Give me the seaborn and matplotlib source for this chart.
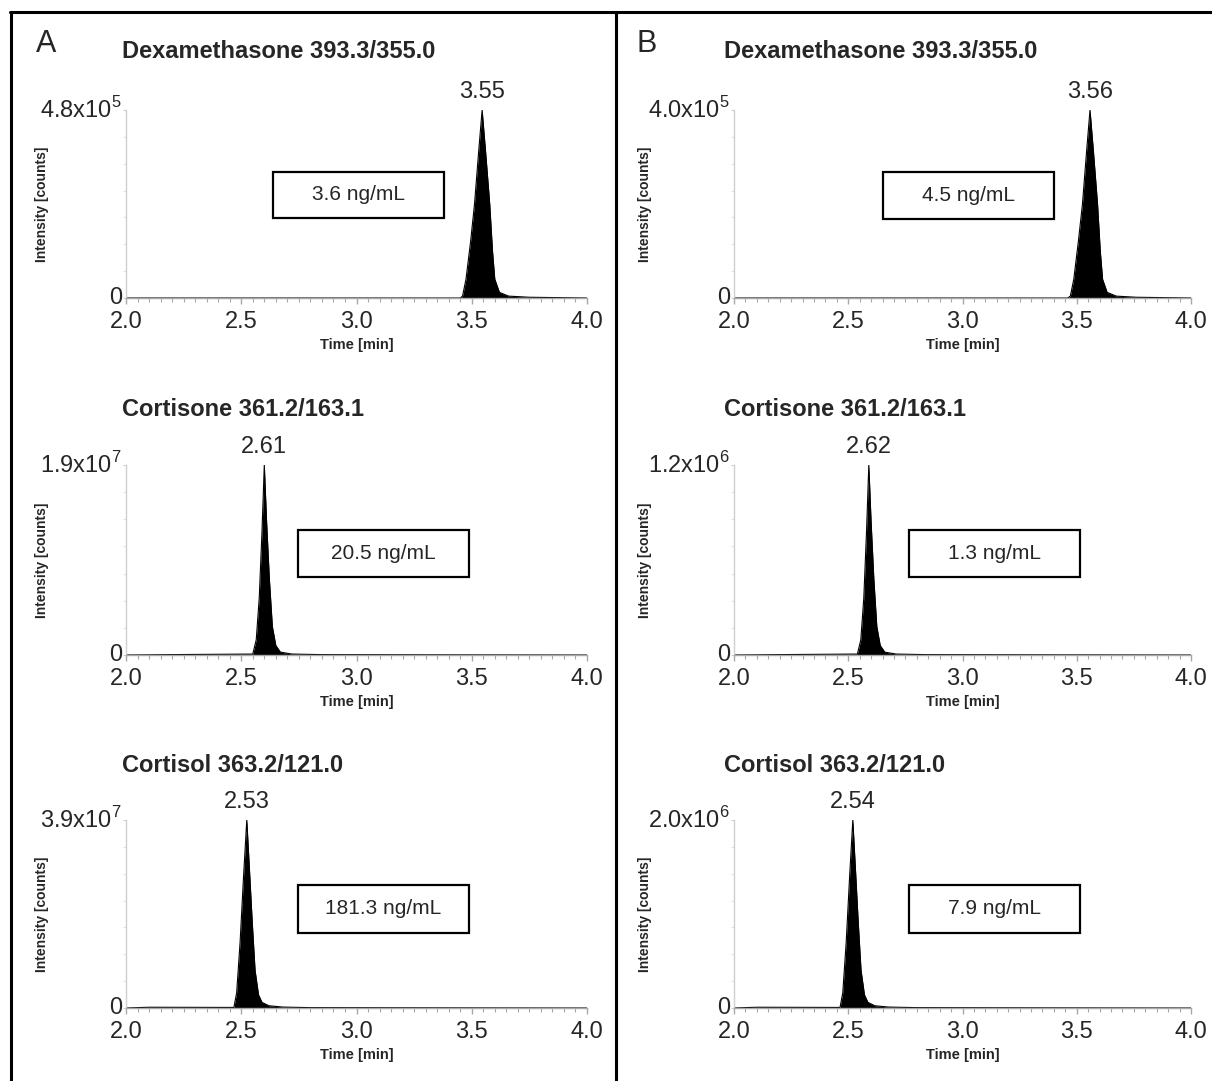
import matplotlib
matplotlib.use("Agg")
import matplotlib.pyplot as plt
import seaborn as sns
import pandas as pd
from matplotlib.patches import Rectangle
from matplotlib.lines import Line2D
from matplotlib.ticker import MultipleLocator, FixedLocator


compounds = [
    "Dexamethasone 393.3/355.0",
    "Cortisone 361.2/163.1",
    "Cortisol 363.2/121.0",
]

# ---- panel A ----
a_apex_labels = ["3.55", "2.61", "2.53"]
a_conc = ["3.6 ng/mL", "20.5 ng/mL", "181.3 ng/mL"]
a_ymax = [4.8e5, 1.9e7, 3.9e7]
a_ymax_labels = ["4.8x10$^{5}$", "1.9x10$^{7}$", "3.9x10$^{7}$"]

a_dex_t = [2.0, 3.45, 3.46, 3.475, 3.495, 3.512, 3.53, 3.545, 3.56, 3.578,
           3.59, 3.60, 3.62, 3.66, 3.75, 4.0]
a_dex_i = [0, 0, 4.8e3, 4.8e4, 1.44e5, 2.4e5, 3.74e5, 4.8e5, 3.74e5, 2.4e5,
           1.2e5, 4.8e4, 1.44e4, 4.8e3, 1.9e3, 0]

a_cortisone_t = [2.0, 2.30, 2.55, 2.565, 2.578, 2.59, 2.60, 2.61, 2.622,
                 2.635, 2.65, 2.67, 2.72, 2.85, 4.0]
a_cortisone_i = [0, 5.7e4, 9.5e4, 1.52e6, 5.7e6, 1.235e7, 1.9e7, 1.33e7,
                 7.6e6, 2.85e6, 9.5e5, 2.85e5, 9.5e4, 3.8e4, 0]

a_cortisol_t = [2.0, 2.10, 2.468, 2.48, 2.495, 2.51, 2.524, 2.535, 2.548,
                2.56, 2.575, 2.59, 2.62, 2.68, 2.80, 4.0]
a_cortisol_i = [0, 1.56e5, 1.17e5, 3.12e6, 1.365e7, 2.73e7, 3.9e7, 2.925e7,
                1.755e7, 7.8e6, 2.73e6, 1.17e6, 4.68e5, 1.95e5, 7.8e4, 0]

# ---- panel B ----
b_apex_labels = ["3.56", "2.62", "2.54"]
b_conc = ["4.5 ng/mL", "1.3 ng/mL", "7.9 ng/mL"]
b_ymax = [4.0e5, 1.2e6, 2.0e6]
b_ymax_labels = ["4.0x10$^{5}$", "1.2x10$^{6}$", "2.0x10$^{6}$"]

b_dex_t = [2.0, 3.46, 3.472, 3.487, 3.507, 3.525, 3.543, 3.558, 3.573, 3.591,
           3.603, 3.613, 3.633, 3.673, 3.76, 4.0]
b_dex_i = [0, 0, 4.0e3, 4.0e4, 1.2e5, 2.0e5, 3.12e5, 4.0e5, 3.12e5, 2.0e5,
           1.0e5, 4.0e4, 1.2e4, 4.0e3, 1.6e3, 0]

b_cortisone_t = [2.0, 2.30, 2.54, 2.555, 2.568, 2.58, 2.59, 2.60, 2.612,
                 2.625, 2.64, 2.66, 2.71, 2.84, 4.0]
b_cortisone_i = [0, 3.6e3, 6.0e3, 9.6e4, 3.6e5, 7.8e5, 1.2e6, 8.4e5,
                 4.8e5, 1.8e5, 6.0e4, 1.8e4, 6.0e3, 2.4e3, 0]

b_cortisol_t = [2.0, 2.10, 2.464, 2.476, 2.491, 2.506, 2.52, 2.531, 2.544,
                2.556, 2.571, 2.586, 2.616, 2.676, 2.80, 4.0]
b_cortisol_i = [0, 8.0e3, 6.0e3, 1.6e5, 7.0e5, 1.4e6, 2.0e6, 1.5e6,
                9.0e5, 4.0e5, 1.4e5, 6.0e4, 2.4e4, 1.0e4, 4.0e3, 0]

a_peaks = [(a_dex_t, a_dex_i), (a_cortisone_t, a_cortisone_i), (a_cortisol_t, a_cortisol_i)]
b_peaks = [(b_dex_t, b_dex_i), (b_cortisone_t, b_cortisone_i), (b_cortisol_t, b_cortisol_i)]


sns.set_style("white")
plt.rcParams["font.family"] = ["Liberation Sans", "DejaVu Sans"]
plt.rcParams["mathtext.fontset"] = "custom"
plt.rcParams["mathtext.rm"] = "Liberation Sans"

W, H = 1212, 1081
fig = plt.figure(figsize=(W / 100, H / 100), dpi=100)

# layout in pixels
row_top = [110, 465, 820]
row_zero = [298, 655, 1008]
title_y = [52, 410, 766]
panels = [
    dict(letter="A", letter_x=46, x0=126, x1=587, title_x=122, ylab_x=42,
         peaks=a_peaks, apex=a_apex_labels, conc=a_conc, ymax=a_ymax, ylabels=a_ymax_labels,
         boxes=[(273, 444, 172, 218), (298, 469, 530, 577), (298, 469, 885, 933)]),
    dict(letter="B", letter_x=647, x0=734, x1=1191, title_x=724, ylab_x=645,
         peaks=b_peaks, apex=b_apex_labels, conc=b_conc, ymax=b_ymax, ylabels=b_ymax_labels,
         boxes=[(883, 1054, 172, 219), (909, 1080, 530, 577), (909, 1080, 885, 933)]),
]

for p in panels:
    fig.text(p["letter_x"] / W, 1 - 44 / H, p["letter"],
             fontsize=22, ha="center", va="center")
    for r in range(3):
        left = p["x0"] / W
        width = (p["x1"] - p["x0"]) / W
        bottom = 1 - row_zero[r] / H
        height = (row_zero[r] - row_top[r]) / H
        ax = fig.add_axes([left, bottom, width, height])

        t, inten = p["peaks"][r]
        df = pd.DataFrame({"t": t, "i": inten})
        ax.fill_between(df["t"], df["i"], color="black", lw=0)
        sns.lineplot(data=df, x="t", y="i", ax=ax, color="black", lw=0.8,
                     estimator=None, sort=False)

        ymax = p["ymax"][r]
        ax.set_xlim(2.0, 4.0)
        ax.set_ylim(0, ymax)
        ax.set_xticks([2.0, 2.5, 3.0, 3.5, 4.0])
        ax.set_xticklabels(["2.0", "2.5", "3.0", "3.5", "4.0"])
        ax.xaxis.set_minor_locator(MultipleLocator(0.05))
        ax.set_yticks([0, ymax])
        ax.set_yticklabels(["0", p["ylabels"][r]])
        ax.yaxis.set_minor_locator(FixedLocator([ymax * k / 7 for k in range(1, 7)]))

        for s in ["top", "right"]:
            ax.spines[s].set_visible(False)
        ax.spines["left"].set_color("#cfcfcf")
        ax.spines["bottom"].set_color("#a8a8a8")
        ax.spines["left"].set_linewidth(1.0)
        ax.spines["bottom"].set_linewidth(1.0)

        ax.tick_params(axis="x", which="major", direction="out", length=4, width=1,
                       color="#a8a8a8", labelsize=17, pad=5.5, bottom=True)
        ax.tick_params(axis="x", which="minor", direction="out", length=3, width=0.8,
                       color="#a8a8a8", bottom=True)
        ax.tick_params(axis="y", which="major", direction="out", length=2, width=0.8,
                       color="#cfcfcf", labelsize=17, pad=1, left=True)
        ax.tick_params(axis="y", which="minor", direction="out", length=2, width=0.6,
                       color="#dddddd", left=True)
        for lab in ax.get_yticklabels():
            lab.set_va("center")

        ax_w = p["x1"] - p["x0"]
        ax_h = row_zero[r] - row_top[r]

        ax.set_xlabel("Time [min]", fontsize=10.5, fontweight="bold")
        ax.xaxis.set_label_coords(0.5, -47 / ax_h)
        ax.xaxis.label.set_va("center")
        ax.set_ylabel("Intensity [counts]", fontsize=10, fontweight="bold")
        ax.yaxis.set_label_coords((p["ylab_x"] - p["x0"]) / ax_w, 0.5)
        ax.yaxis.label.set_va("center")

        # apex label
        apex_t = df.loc[df["i"].idxmax(), "t"]
        ax.annotate(p["apex"][r], xy=(apex_t, ymax), xytext=(0, 13),
                    textcoords="offset points", ha="center", va="center",
                    fontsize=17, annotation_clip=False)

        # concentration box
        bx0, bx1, by0, by1 = p["boxes"][r]
        fx0 = (bx0 - p["x0"]) / ax_w
        fw = (bx1 - bx0) / ax_w
        fy0 = (row_zero[r] - by1) / ax_h
        fh = (by1 - by0) / ax_h
        ax.add_patch(Rectangle((fx0, fy0), fw, fh, transform=ax.transAxes,
                               fill=False, ec="black", lw=1.6, clip_on=False))
        ax.text(fx0 + fw / 2, fy0 + fh / 2, p["conc"][r], transform=ax.transAxes,
                ha="center", va="center", fontsize=15)

        fig.text(p["title_x"] / W, 1 - title_y[r] / H, compounds[r],
                 fontsize=17, fontweight="bold", ha="left", va="center")

# panel frame lines
fig.add_artist(Line2D([10 / W, 1], [1 - 12 / H, 1 - 12 / H],
                      transform=fig.transFigure, color="black", lw=2.2))
for xp in [11, 616]:
    fig.add_artist(Line2D([xp / W, xp / W], [1 - 12 / H, 0],
                          transform=fig.transFigure, color="black", lw=2.2))

fig.savefig("out.png", dpi=100)
